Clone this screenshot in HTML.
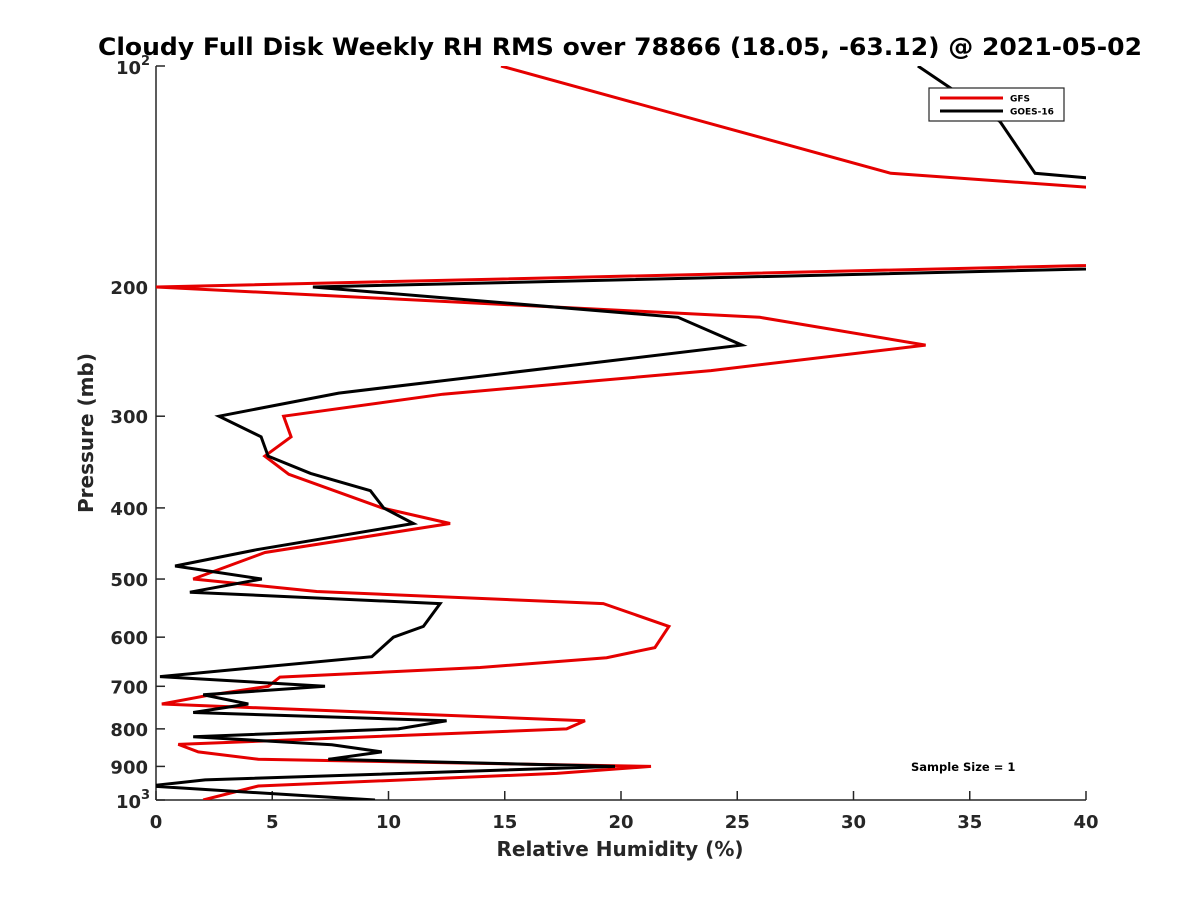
<!DOCTYPE html>
<html><head><meta charset="utf-8"><style>
body{margin:0;background:#fff;}
svg{display:block;font-family:"DejaVu Sans","Liberation Sans",sans-serif;}
</style></head><body>
<svg id="chart" width="1200" height="900">
<defs><clipPath id="plotclip"><rect x="156" y="66" width="930" height="734"/></clipPath></defs>
<text x="620" y="55" text-anchor="middle" font-size="24" font-weight="bold" fill="#000" textLength="1044" lengthAdjust="spacingAndGlyphs">Cloudy Full Disk Weekly RH RMS over 78866 (18.05, -63.12) @ 2021-05-02</text>
<g id="axes"></g>
<g id="series" clip-path="url(#plotclip)"></g>
<text x="620" y="856" text-anchor="middle" font-size="20" font-weight="bold" fill="#262626">Relative Humidity (%)</text>
<text transform="translate(93,433) rotate(-90)" text-anchor="middle" font-size="20" font-weight="bold" fill="#262626">Pressure (mb)</text>
<text x="911" y="771" font-size="11.5" font-weight="bold" fill="#000">Sample Size = 1</text>
<g>
<rect x="929" y="88" width="135" height="33" fill="#fff" stroke="#262626" stroke-width="1.2"/>
<line x1="940" y1="98" x2="1003" y2="98" stroke="#e50000" stroke-width="3"/>
<text x="1010" y="101.5" font-size="9" font-weight="bold">GFS</text>
<line x1="940" y1="111" x2="1003" y2="111" stroke="#000" stroke-width="3"/>
<text x="1010" y="114.5" font-size="9" font-weight="bold">GOES-16</text>
</g>
</svg>
<script>
const gfsRH = [14.84,31.61,76,0,25.97,33.10,23.87,12.34,5.49,5.81,4.68,5.71,9.72,12.65,4.69,1.60,6.91,19.24,22.06,21.46,19.38,13.94,5.33,4.83,2.25,0.25,18.45,17.66,0.96,1.82,4.40,21.29,17.23,4.40,2.03];
const gfsP = [100,140,176,200,220,240,260,280,300,320,340,360,400,420,460,500,520,540,580,620,640,660,680,700,720,740,780,800,840,860,880,900,920,957,1000];
const goesRH = [32.77,36.30,37.81,40.0,72.3,6.75,22.45,25.20,7.86,2.71,4.52,4.82,6.65,9.22,9.79,11.07,4.33,0.82,4.55,1.46,12.22,11.50,10.21,9.28,0.17,7.27,2.03,3.97,1.60,12.50,10.42,1.60,7.56,9.71,7.41,19.74,2.11,-0.3,9.42];
const goesP = [100,119,140,142,179,200,220,240,279,300,320,340,359,379,400,420,456,480,500,521,540,580,600,638,679,700,719,740,760,780,800,820,841,860,880,900,939,957,1000];
const xTicks = [0,5,10,15,20,25,30,35,40];
const yTicks = [200,300,400,500,600,700,800,900];

const X0=156,X1=1086,Y0=66,Y1=800;
function xs(v){return X0+(v-0)/(40-0)*(X1-X0);}
function ys(p){return Y0+(Math.log10(p)-2)*(Y1-Y0);}
const NS="http://www.w3.org/2000/svg";
const axes=document.getElementById('axes'), ser=document.getElementById('series');
function mk(tag,attrs,parent){const e=document.createElementNS(NS,tag);for(const k in attrs)e.setAttribute(k,attrs[k]);parent.appendChild(e);return e;}

let e=mk('line',{x1:X0,y1:Y0,x2:X0,y2:Y1,stroke:'#262626','stroke-width':1.5},axes);


e=mk('line',{x1:X0,y1:Y1,x2:X1,y2:Y1,stroke:'#262626','stroke-width':1.5},axes);



xTicks.forEach(t=>{
  const x=xs(t);
  let l=mk('line',{x1:x,y1:Y1,x2:x,y2:Y1-9,stroke:'#262626','stroke-width':1.5},axes);
  
  
  let tx=mk('text',{x:x,y:Y1+28,'text-anchor':'middle','font-size':18,'font-weight':'bold',fill:'#262626'},axes);
  tx.textContent=t;
  
  
});
yTicks.concat([100,1000]).forEach(t=>{
  const y=ys(t);
  let l=mk('line',{x1:X0,y1:y,x2:X0+9,y2:y,stroke:'#262626','stroke-width':1.5},axes);
  
  
});
yTicks.forEach(t=>{
  let tx=mk('text',{x:X0-8,y:ys(t)+7,'text-anchor':'end','font-size':18,'font-weight':'bold',fill:'#262626'},axes);
  tx.textContent=t;
  
  
});
[[100,'2'],[1000,'3']].forEach(([p,s])=>{
  let tx=mk('text',{x:X0-15,y:ys(p)+8,'text-anchor':'end','font-size':18,'font-weight':'bold',fill:'#262626'},axes);
  tx.textContent='10';
  
  
  let sp=mk('text',{x:X0-15,y:ys(p)-1,'text-anchor':'start','font-size':13,'font-weight':'bold',fill:'#262626'},axes);
  sp.textContent=s;
  
  
});

function drawLine(vals,ps,color,name){
  const d=vals.map((v,i)=>(i?'L':'M')+xs(v).toFixed(1)+','+ys(ps[i]).toFixed(1)).join(' ');
  const p=mk('path',{d:d,fill:'none',stroke:color,'stroke-width':3,'stroke-linejoin':'miter'},ser);
  
  
}
drawLine(gfsRH,gfsP,'#e50000','gfs-line');
drawLine(goesRH,goesP,'#000000','goes16-line');
</script>
</body></html>
